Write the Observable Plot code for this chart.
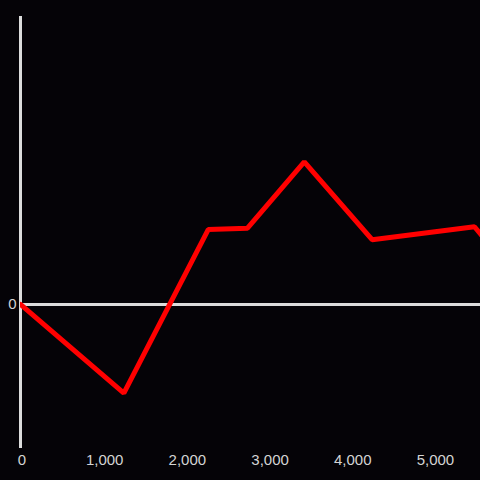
<!DOCTYPE html>
<html>
<head>
<meta charset="utf-8">
<script src="https://cdn.jsdelivr.net/npm/d3@7"></script>
<script src="https://cdn.jsdelivr.net/npm/@observablehq/plot@0.6"></script>
<style>
  html, body { margin: 0; padding: 0; background: #050307; }
  #chart svg { display: block; }
</style>
</head>
<body>
<div id="chart"></div>
<script>
const xs = [0, 1250, 2270, 2745, 3432, 4252, 5490, 5720];
const ys = [0, -0.615, 0.52, 0.53, 0.99, 0.45, 0.54, 0.38];
const xTicks = [0, 1000, 2000, 3000, 4000, 5000];
const yTicks = [0];

const data = xs.map((x, i) => ({x, y: ys[i]}));

const chart = Plot.plot({
  width: 480,
  height: 480,
  marginLeft: 20,
  marginRight: 0,
  marginTop: 16,
  marginBottom: 32,
  style: {background: "#050307", color: "#d4d4d4", fontSize: "15px", fontFamily: "Liberation Sans, Arial, sans-serif"},
  x: {domain: [0, 5563], label: null},
  y: {domain: [-1, 2], label: null},
  marks: [
    Plot.axisX({ticks: xTicks, tickSize: 0, tickPadding: 6, tickFormat: d3.format(","), label: null, fill: "#d4d4d4", fontSize: 15, dx: 1.5}),
    Plot.axisY({ticks: yTicks, tickSize: 0, tickPadding: 4, tickFormat: d => String(d), label: null, fill: "#d4d4d4", fontSize: 15}),
    Plot.ruleY([0], {stroke: "#dcdcdc", strokeWidth: 3}),
    Plot.ruleX([0], {stroke: "#dcdcdc", strokeWidth: 3}),
    Plot.line(data, {x: "x", y: "y", stroke: "#ff0000", strokeWidth: 5, clip: true, strokeLinejoin: "miter"})
  ]
});
document.getElementById("chart").appendChild(chart);
</script>
</body>
</html>
